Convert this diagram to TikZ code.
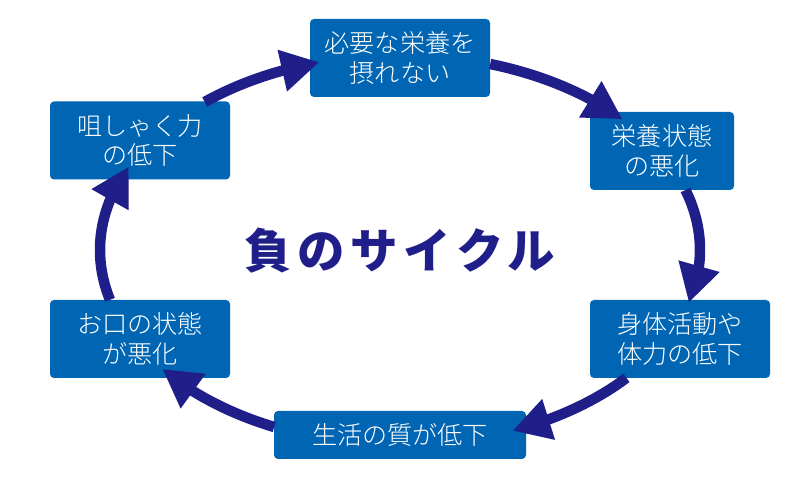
\documentclass[tikz,border=0pt]{standalone}
\usepackage{fontspec}
\setmainfont{Noto Sans CJK JP}[UprightFont=* Light]
\newfontfamily\titlefont{Noto Sans CJK JP}[LetterSpace=12]
\usetikzlibrary{arrows.meta, bending}

\definecolor{stagefill}{RGB}{0,102,179}
\definecolor{cyclecol}{RGB}{32,31,138}

\begin{document}
\begin{tikzpicture}[
    stage/.style={fill=stagefill, text=white, rounded corners=0.08cm,
      minimum height=1.56cm, align=center, inner sep=0pt,
      font=\fontsize{14.3pt}{17pt}\selectfont},
    cyc/.style={draw=cyclecol, line width=0.21cm,
      -{Triangle[length=0.76cm, width=0.8cm, flex]}},
    ell/.style={x radius=6cm, y radius=3.9cm}]
  \useasboundingbox (0, 0) rectangle (16, 10);
  \coordinate (mid) at (8, 5);

  % stages of the cycle
  \draw (8, 8.84)    node[stage, minimum width=3.6cm] (need) {必要な栄養を\\摂れない};
  \draw (13.24, 6.98) node[stage, minimum width=2.88cm] (nutr) {栄養状態\\の悪化};
  \draw (13.6, 3.22) node[stage, minimum width=3.6cm] (body) {身体活動や\\体力の低下};
  \draw (8, 1.3)     node[stage, minimum width=5.04cm, minimum height=0.96cm] (life) {生活の質が低下};
  \draw (2.8, 3.22)  node[stage, minimum width=3.6cm] (mouth) {お口の状態\\が悪化};
  \draw (2.8, 7.19)  node[stage, minimum width=3.6cm] (chew) {咀しゃく力\\の低下};

  \node[text=cyclecol, font=\titlefont\bfseries\fontsize{27pt}{30pt}\selectfont] (title) at (8, 4.98) {負のサイクル};

  % arrows along the ellipse
  \draw[cyc] (mid) ++(130.6:6cm and 3.9cm) arc[ell, start angle=130.6, end angle=105.6];
  \draw[cyc] (mid) ++(72.5:6cm and 3.9cm)  arc[ell, start angle=72.5, end angle=42.1];
  \draw[cyc] (mid) ++(17.9:6cm and 3.9cm)  arc[ell, start angle=17.9, end angle=-15.7];
  \draw[cyc] (mid) ++(-41:6cm and 3.9cm)   arc[ell, start angle=-41, end angle=-68];
  \draw[cyc] (mid) ++(-114.8:6cm and 3.9cm) arc[ell, start angle=-114.8, end angle=-142.4];
  \draw[cyc] (mid) ++(-165.2:6cm and 3.9cm) arc[ell, start angle=-165.2, end angle=-205.3];
\end{tikzpicture}
\end{document}
